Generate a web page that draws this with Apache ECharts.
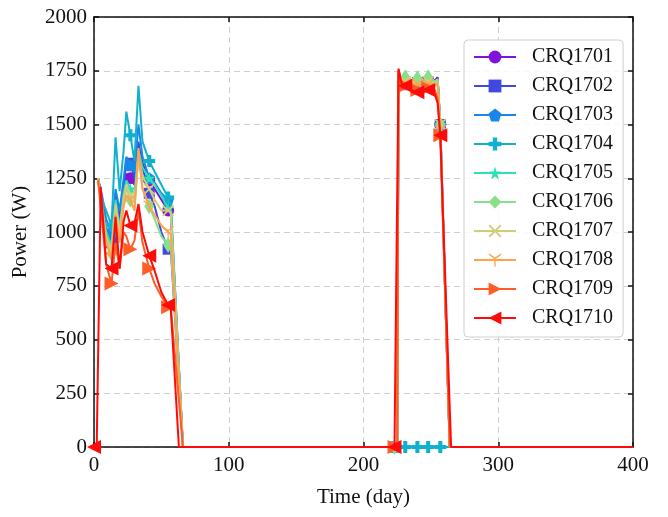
<!DOCTYPE html>
<html>
<head>
<meta charset="utf-8">
<script src="https://cdn.jsdelivr.net/npm/echarts@6/dist/echarts.min.js"></script>
<style>html,body{margin:0;padding:0;background:#fff}#c{width:668px;height:517px}</style>
</head>
<body>
<div id="c"></div>
<script>
// ---- data ----
const seriesNames = ['CRQ1701','CRQ1702','CRQ1703','CRQ1704','CRQ1705','CRQ1706','CRQ1707','CRQ1708','CRQ1709','CRQ1710'];
const xTicks = [0, 100, 200, 300, 400];
const yTicks = [0, 250, 500, 750, 1000, 1250, 1500, 1750, 2000];

const dayLeft  = [3, 6, 9, 13, 16, 19, 22, 24, 27, 30, 33, 36, 41, 45, 50, 55, 57, 66];
const dayRight = [223, 225, 226, 228, 231, 233, 236, 240, 242, 245, 248, 250, 253, 255, 257, 264, 400];
const dayLeftRed  = [0, 2, 5, 9, 13, 16, 19, 22, 24, 27, 30, 33, 36, 41, 45, 50, 55, 57, 63];
const dayRightRed = [223, 224, 226, 229, 231, 233, 236, 240, 243, 245, 248, 250, 253, 255, 257, 265, 400];
const markerDays = [0, 13, 27, 41, 55, 223, 231, 240, 248, 257];

const left1701 = [1250,1120,1020,960,1180,1060,1220,1270,1250,1220,1400,1320,1240,1200,1150,1100,1080,0];
const left1702 = [1250,1150,1000,950,1150,1050,1200,1330,1320,1250,1420,1300,1180,1120,1000,920,920,0];
const left1703 = [1250,1170,1060,1000,1200,1100,1250,1350,1310,1280,1500,1350,1250,1230,1180,1150,1120,0];
const left1704 = [1250,1150,1100,1030,1440,1190,1380,1560,1450,1330,1680,1420,1330,1280,1220,1160,1130,0];
const left1705 = [1250,1130,1000,940,1150,1020,1180,1240,1200,1180,1380,1300,1250,1220,1170,1110,1100,0];
const left1706 = [1250,1100,960,900,1100,980,1150,1200,1150,1100,1360,1200,1120,1060,980,940,930,0];
const left1707 = [1250,1110,980,920,1130,1000,1160,1220,1170,1140,1350,1260,1200,1150,1100,1100,1090,0];
const left1708 = [1250,1100,950,880,1080,950,1120,1170,1150,1100,1390,1200,1120,1080,1030,1000,990,0];
const left1709 = [1240,1050,850,760,950,830,1000,980,920,960,1100,950,830,760,700,650,650,0];
const left1710 = [0,0,1210,850,830,1070,830,1050,1100,1030,1040,1130,1000,890,820,720,660,640,0];

const right1701 = [0,0,1750,1700,1690,1700,1690,1700,1690,1700,1700,1710,1705,1720,1500,0,0];
const right1702 = [0,0,1750,1700,1685,1710,1690,1695,1700,1690,1700,1710,1700,1710,1500,0,0];
const right1703 = [0,0,1750,1695,1690,1705,1685,1690,1700,1685,1695,1705,1700,1705,1500,0,0];
const right1704 = [0,0,0,0,0,0,0,0,0,0,0,0,0,0,0,0,0];
const right1705 = [0,0,1750,1700,1700,1715,1690,1700,1710,1690,1705,1715,1700,1710,1500,0,0];
const right1706 = [0,0,1750,1700,1720,1690,1700,1715,1690,1700,1720,1700,1700,1710,1500,0,0];
const right1707 = [0,0,1750,1690,1700,1690,1700,1690,1700,1690,1700,1700,1690,1700,1500,0,0];
const right1708 = [0,0,1750,1680,1690,1680,1690,1685,1680,1690,1685,1690,1680,1690,1470,0,0];
const right1709 = [0,0,1750,1670,1680,1670,1665,1660,1670,1665,1670,1680,1660,1620,1450,0,0];
const right1710 = [0,0,1760,1670,1680,1665,1660,1650,1645,1655,1660,1670,1640,1600,1450,0,0];

// ---- styling ----
const colors = ['#7d14d8','#4148e0','#1a86ea','#10b1cf','#2ce0b8','#88e08a','#d0cc78','#ffa24e','#ff5c28','#ff0a0a'];
const symbols = [
  'circle',
  'rect',
  'path://M50,0 L100,38 L81,100 L19,100 L0,38 Z',
  'path://M33,0 H67 V33 H100 V67 H67 V100 H33 V67 H0 V33 H33 Z',
  'path://M50,0 L61,35 L98,35 L68,57 L79,91 L50,70 L21,91 L32,57 L2,35 L39,35 Z',
  'diamond',
  'path://M10,0 L50,40 L90,0 L100,10 L60,50 L100,90 L90,100 L50,60 L10,100 L0,90 L40,50 L0,10 Z',
  'path://M0,22 L5,14 L50,41 L95,14 L100,22 L55,50 L55,100 L45,100 L45,50 Z',
  'path://M0,0 L100,50 L0,100 Z',
  'path://M100,0 L0,50 L100,100 Z'
];
const symbolSizes = [12, 11, 12, 12, 12, [10, 16], 12, 12, 14, 14];

const lefts = [left1701,left1702,left1703,left1704,left1705,left1706,left1707,left1708,left1709,left1710];
const rights = [right1701,right1702,right1703,right1704,right1705,right1706,right1707,right1708,right1709,right1710];

function build(i) {
  const isRed = i === 9;
  const dl = isRed ? dayLeftRed : dayLeft;
  const dr = isRed ? dayRightRed : dayRight;
  const pts = [];
  dl.forEach((d, k) => pts.push([d, lefts[i][k]]));
  dr.forEach((d, k) => pts.push([d, rights[i][k]]));
  return pts.map(p => markerDays.indexOf(p[0]) >= 0 ? { value: p } : { value: p, symbol: 'none' });
}

const series = seriesNames.map((name, i) => ({
  name: name,
  type: 'line',
  data: build(i),
  color: colors[i],
  symbol: symbols[i],
  symbolSize: symbolSizes[i],
  showSymbol: true,
  showAllSymbol: true,
  lineStyle: { width: 2, color: colors[i] },
  itemStyle: { color: colors[i] },
  emphasis: { disabled: true },
  animation: false,
  z: 2 + i
}));

const chart = echarts.init(document.getElementById('c'), null, { renderer: 'canvas' });
const serif = '"Liberation Serif", "Times New Roman", serif';
chart.setOption({
  animation: false,
  backgroundColor: '#fff',
  grid: { left: 94, right: 35, top: 17, bottom: 70, containLabel: false },
  legend: {
    left: 464, top: 40,
    orient: 'vertical',
    padding: [7, 10, 9, 9],
    itemWidth: 42, itemHeight: 16, itemGap: 9,
    borderColor: '#cfcfcf', borderWidth: 1, borderRadius: 4,
    backgroundColor: 'rgba(255,255,255,0.85)',
    textStyle: { fontFamily: serif, fontSize: 20, color: '#111', lineHeight: 20, padding: [0, 0, 0, 11] },
    data: seriesNames
  },
  xAxis: [{
    type: 'value', min: 0, max: 400, interval: 100,
    name: 'Time (day)', nameLocation: 'middle', nameGap: 40,
    nameTextStyle: { fontFamily: serif, fontSize: 21, color: '#111' },
    axisLine: { show: true, onZero: false, lineStyle: { color: '#111', width: 1.5 } },
    axisTick: { show: true, inside: true, length: 5, lineStyle: { color: '#111', width: 1.5 } },
    axisLabel: { fontFamily: serif, fontSize: 21, color: '#111', margin: 8, formatter: v => xTicks.indexOf(v) >= 0 ? String(v) : '' },
    splitLine: { show: true, lineStyle: { color: '#cfcfcf', type: [6, 4], width: 1 } }
  }, {
    type: 'value', min: 0, max: 400, interval: 100, position: 'top',
    axisLine: { show: true, onZero: false, lineStyle: { color: '#111', width: 1.5 } },
    axisTick: { show: true, inside: true, length: 5, lineStyle: { color: '#111', width: 1.5 } },
    axisLabel: { show: false }, splitLine: { show: false }
  }],
  yAxis: [{
    type: 'value', min: 0, max: 2000, interval: 250,
    name: 'Power (W)', nameLocation: 'middle', nameGap: 63,
    nameTextStyle: { fontFamily: serif, fontSize: 21, color: '#111' },
    axisLine: { show: true, onZero: false, lineStyle: { color: '#111', width: 1.5 } },
    axisTick: { show: true, inside: true, length: 5, lineStyle: { color: '#111', width: 1.5 } },
    axisLabel: { fontFamily: serif, fontSize: 21, color: '#111', margin: 7, formatter: v => yTicks.indexOf(v) >= 0 ? String(v) : '' },
    splitLine: { show: true, lineStyle: { color: '#cfcfcf', type: [6, 4], width: 1 } }
  }, {
    type: 'value', min: 0, max: 2000, interval: 250, position: 'right',
    axisLine: { show: true, onZero: false, lineStyle: { color: '#111', width: 1.5 } },
    axisTick: { show: true, inside: true, length: 5, lineStyle: { color: '#111', width: 1.5 } },
    axisLabel: { show: false }, splitLine: { show: false }
  }],
  series: series
});
</script>
</body>
</html>
